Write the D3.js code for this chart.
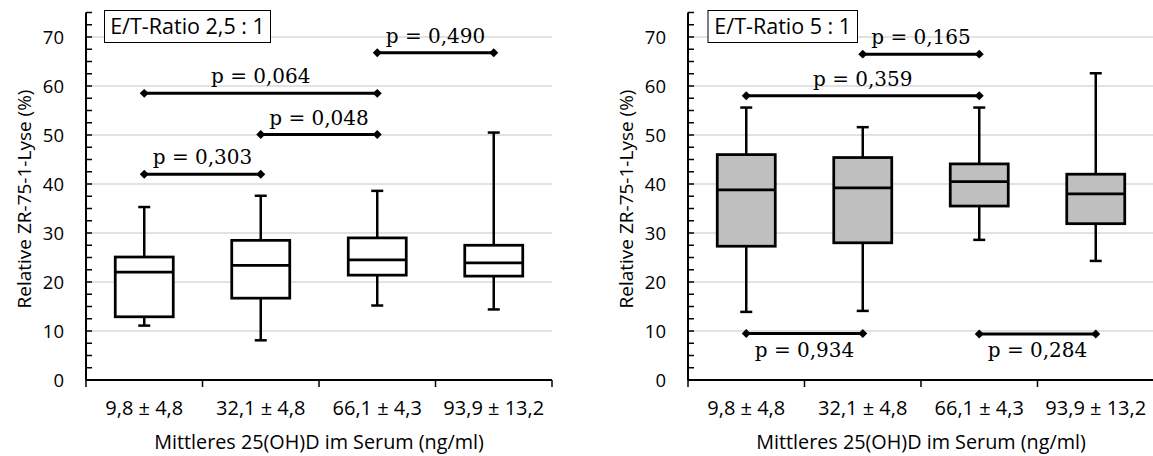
<!DOCTYPE html>
<html>
<head>
<meta charset="utf-8">
<script src="https://cdn.jsdelivr.net/npm/d3@7"></script>
<style>
  body { margin: 0; background: white; }
  svg { display: block; }
</style>
</head>
<body>
<div id="chart"></div>
<script>
// data
const categories = ["9,8 ± 4,8", "32,1 ± 4,8", "66,1 ± 4,3", "93,9 ± 13,2"];
const yTicks = [0, 10, 20, 30, 40, 50, 60, 70];

// E/T ratio 2,5 : 1
const leftMin = [11.1, 8.1, 15.2, 14.4];
const leftQ1 = [12.9, 16.7, 21.4, 21.2];
const leftMedian = [22.0, 23.4, 24.5, 23.9];
const leftQ3 = [25.1, 28.5, 29.0, 27.5];
const leftMax = [35.3, 37.6, 38.6, 50.5];
const leftBrackets = [
  {from: 0, to: 1, y: 42.0, p: "p = 0,303", below: false},
  {from: 1, to: 2, y: 50.1, p: "p = 0,048", below: false},
  {from: 0, to: 2, y: 58.5, p: "p = 0,064", below: false},
  {from: 2, to: 3, y: 66.8, p: "p = 0,490", below: false}
];

// E/T ratio 5 : 1
const rightMin = [13.9, 14.1, 28.6, 24.3];
const rightQ1 = [27.3, 28.0, 35.5, 31.9];
const rightMedian = [38.8, 39.2, 40.5, 38.0];
const rightQ3 = [46.0, 45.4, 44.1, 42.0];
const rightMax = [55.6, 51.6, 55.6, 62.6];
const rightBrackets = [
  {from: 0, to: 2, y: 58.0, p: "p = 0,359", below: false},
  {from: 1, to: 2, y: 66.5, p: "p = 0,165", below: false},
  {from: 0, to: 1, y: 9.5, p: "p = 0,934", below: true},
  {from: 2, to: 3, y: 9.4, p: "p = 0,284", below: true}
];

const W = 1153, H = 456;
const sans = "'Open Sans', 'Noto Sans', sans-serif";
const serif = "'DejaVu Serif', serif";

const svg = d3.select("#chart").append("svg")
  .attr("width", W).attr("height", H);

function zip(mins, q1, med, q3, maxs) {
  return categories.map((c, i) => ({cat: c, min: mins[i], q1: q1[i], med: med[i], q3: q3[i], max: maxs[i]}));
}

function drawPanel(x0, x1, title, titleBox, boxes, brackets, fill) {
  const g = svg.append("g");

  const y = d3.scaleLinear().domain([0, 75]).range([380, 12.5]);
  const x = d3.scaleBand().domain(categories).range([x0, x1]);
  const cx = d => x(d) + x.bandwidth() / 2;

  // gridlines
  g.append("g").selectAll("line").data(yTicks.slice(1)).join("line")
    .attr("x1", x0).attr("x2", x1)
    .attr("y1", d => y(d)).attr("y2", d => y(d))
    .attr("stroke", "#d9d9d9").attr("stroke-width", 1.5);

  // y axis with minor ticks
  const minor = d3.range(0, 75.01, 2.5);
  const ya = g.append("g");
  ya.selectAll("line.minor").data(minor).join("line")
    .attr("class", "minor")
    .attr("x1", x0).attr("x2", x0 + 6)
    .attr("y1", d => y(d)).attr("y2", d => y(d))
    .attr("stroke", "black").attr("stroke-width", 1.5);
  ya.append("line")
    .attr("x1", x0).attr("x2", x0)
    .attr("y1", y(75)).attr("y2", y(0))
    .attr("stroke", "black").attr("stroke-width", 2);
  ya.selectAll("text").data(yTicks).join("text")
    .attr("x", x0 - 22).attr("y", d => y(d) + 6.5)
    .attr("text-anchor", "end")
    .attr("font-family", sans).attr("font-size", 18.5)
    .text(d => d);

  // x axis
  const xa = g.append("g");
  xa.append("line")
    .attr("x1", x0).attr("x2", x1)
    .attr("y1", y(0)).attr("y2", y(0))
    .attr("stroke", "black").attr("stroke-width", 2);
  const edges = categories.map(c => x(c)).concat([x1]);
  xa.selectAll("line.tick").data(edges).join("line")
    .attr("class", "tick")
    .attr("x1", d => d).attr("x2", d => d)
    .attr("y1", y(0)).attr("y2", y(0) + 7)
    .attr("stroke", "black").attr("stroke-width", 1.5);
  xa.selectAll("text").data(categories).join("text")
    .attr("x", d => cx(d)).attr("y", 415)
    .attr("text-anchor", "middle")
    .attr("font-family", sans).attr("font-size", 20)
    .text(d => d);

  // axis titles
  g.append("text")
    .attr("x", (x0 + x1) / 2).attr("y", 449)
    .attr("text-anchor", "middle")
    .attr("font-family", sans).attr("font-size", 19.8)
    .text("Mittleres 25(OH)D im Serum (ng/ml)");
  g.append("text")
    .attr("transform", `translate(${x0 - 55},199) rotate(-90)`)
    .attr("text-anchor", "middle")
    .attr("font-family", sans).attr("font-size", 19)
    .text("Relative ZR-75-1-Lyse (%)");

  // boxes
  const bw = 58, cap = 12;
  const bx = g.append("g").selectAll("g").data(boxes).join("g");
  bx.append("line")
    .attr("x1", d => cx(d.cat)).attr("x2", d => cx(d.cat))
    .attr("y1", d => y(d.max)).attr("y2", d => y(d.q3))
    .attr("stroke", "black").attr("stroke-width", 2.5);
  bx.append("line")
    .attr("x1", d => cx(d.cat)).attr("x2", d => cx(d.cat))
    .attr("y1", d => y(d.q1)).attr("y2", d => y(d.min))
    .attr("stroke", "black").attr("stroke-width", 2.5);
  bx.append("line")
    .attr("x1", d => cx(d.cat) - cap / 2).attr("x2", d => cx(d.cat) + cap / 2)
    .attr("y1", d => y(d.max)).attr("y2", d => y(d.max))
    .attr("stroke", "black").attr("stroke-width", 2.5);
  bx.append("line")
    .attr("x1", d => cx(d.cat) - cap / 2).attr("x2", d => cx(d.cat) + cap / 2)
    .attr("y1", d => y(d.min)).attr("y2", d => y(d.min))
    .attr("stroke", "black").attr("stroke-width", 2.5);
  bx.append("rect")
    .attr("x", d => cx(d.cat) - bw / 2).attr("width", bw)
    .attr("y", d => y(d.q3)).attr("height", d => y(d.q1) - y(d.q3))
    .attr("fill", fill).attr("stroke", "black").attr("stroke-width", 2.75);
  bx.append("line")
    .attr("x1", d => cx(d.cat) - bw / 2).attr("x2", d => cx(d.cat) + bw / 2)
    .attr("y1", d => y(d.med)).attr("y2", d => y(d.med))
    .attr("stroke", "black").attr("stroke-width", 2.75);

  // significance brackets
  const diamond = d3.symbol().type(d3.symbolSquare).size(40);
  const br = g.append("g").selectAll("g").data(brackets).join("g");
  br.append("line")
    .attr("x1", d => cx(categories[d.from])).attr("x2", d => cx(categories[d.to]))
    .attr("y1", d => y(d.y)).attr("y2", d => y(d.y))
    .attr("stroke", "black").attr("stroke-width", 3);
  br.selectAll("path").data(d => [[cx(categories[d.from]), y(d.y)], [cx(categories[d.to]), y(d.y)]])
    .join("path")
    .attr("d", diamond)
    .attr("transform", p => `translate(${p[0]},${p[1]}) rotate(45)`)
    .attr("fill", "black");
  br.append("text")
    .attr("x", d => (cx(categories[d.from]) + cx(categories[d.to])) / 2)
    .attr("y", d => d.below ? y(d.y) + 23.5 : y(d.y) - 10)
    .attr("text-anchor", "middle")
    .attr("font-family", serif).attr("font-size", 20)
    .text(d => d.p);

  // panel label
  g.append("rect")
    .attr("x", titleBox[0]).attr("y", 10.5)
    .attr("width", titleBox[1]).attr("height", 32)
    .attr("fill", "white").attr("stroke", "black").attr("stroke-width", 1);
  g.append("text")
    .attr("x", titleBox[0] + titleBox[1] / 2).attr("y", 34)
    .attr("text-anchor", "middle")
    .attr("font-family", sans).attr("font-size", 21.5)
    .text(title);
}

drawPanel(86, 552, "E/T-Ratio 2,5 : 1", [104.5, 166],
  zip(leftMin, leftQ1, leftMedian, leftQ3, leftMax), leftBrackets, "white");
drawPanel(688, 1154, "E/T-Ratio 5 : 1", [708, 149.5],
  zip(rightMin, rightQ1, rightMedian, rightQ3, rightMax), rightBrackets, "#bfbfbf");
</script>
</body>
</html>
